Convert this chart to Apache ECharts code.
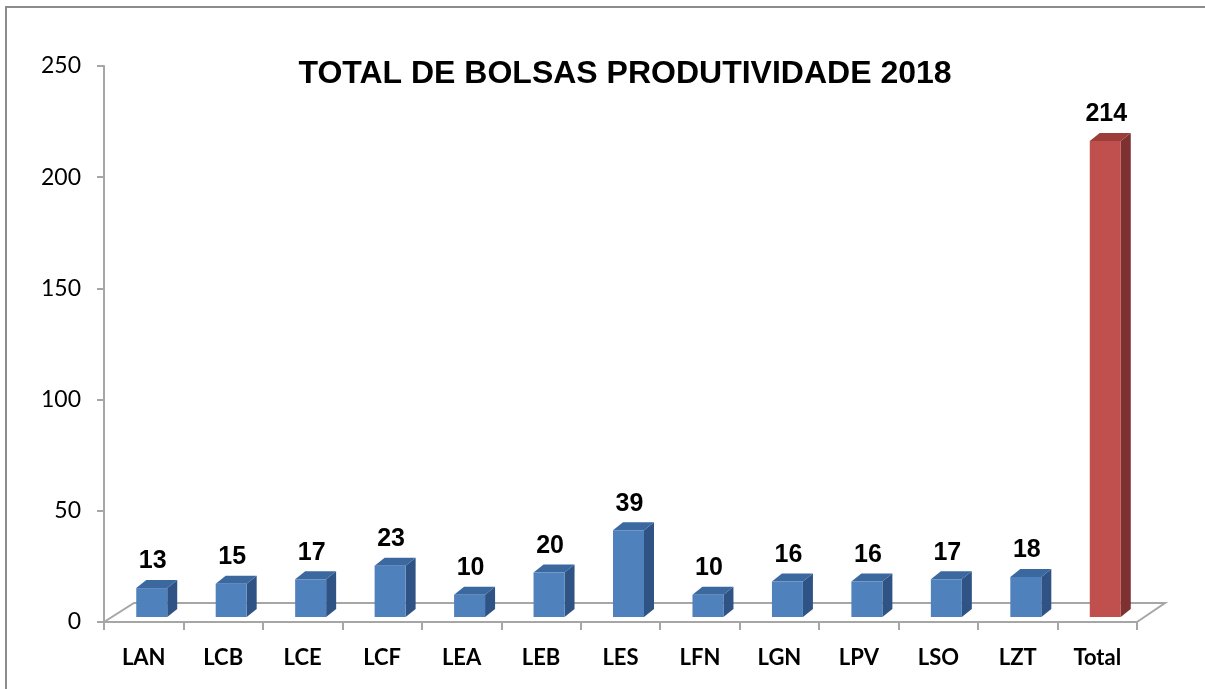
<!DOCTYPE html>
<html>
<head>
<meta charset="utf-8">
<script src="https://cdn.jsdelivr.net/npm/echarts@6/dist/echarts.min.js"></script>
<style>
  html, body { margin: 0; padding: 0; background: #fff; }
  #chart { width: 1205px; height: 689px; }
</style>
</head>
<body>
<div id="chart"></div>
<script>
const categories = ['LAN', 'LCB', 'LCE', 'LCF', 'LEA', 'LEB', 'LES', 'LFN', 'LGN', 'LPV', 'LSO', 'LZT', 'Total']
const values = [13, 15, 17, 23, 10, 20, 39, 10, 16, 16, 17, 18, 214]
const yTicks = [0, 50, 100, 150, 200, 250]

const blue = { front: '#4F81BD', top: '#3C68A0', side: '#2F5384' }
const red = { front: '#C0504D', top: '#9C3D3A', side: '#7D3130' }
const gridColor = '#A6A6A6'

let myChart = echarts.init(document.getElementById('chart'))

function renderBar (params, api) {
  let idx = api.value(0)
  let val = api.value(1)
  let top = api.coord([idx, val])
  let base = api.coord([idx, 0])
  let band = api.size([1, 0])[0]
  let w = band * 0.39
  // bar sits a bit inside the floor depth
  let sx = 8
  let sy = -5
  let dx = 10
  let dy = -8
  let x0 = top[0] - w / 2 + sx
  let x1 = x0 + w
  let yT = top[1] + sy
  let yB = base[1] + sy
  let c = idx === categories.length - 1 ? red : blue
  return {
    type: 'group',
    children: [
      {
        type: 'polygon',
        shape: { points: [[x1, yT], [x1 + dx, yT + dy], [x1 + dx, yB + dy], [x1, yB]] },
        style: { fill: c.side }
      },
      {
        type: 'polygon',
        shape: { points: [[x0, yT], [x0 + dx, yT + dy], [x1 + dx, yT + dy], [x1, yT]] },
        style: { fill: c.top }
      },
      {
        type: 'rect',
        shape: { x: x0, y: yT, width: w, height: yB - yT },
        style: { fill: c.front }
      },
      {
        type: 'text',
        x: (x0 + x1) / 2 + 1,
        y: yT + dy - 6,
        style: {
          text: String(val),
          fill: '#000',
          font: 'bold 25px "Liberation Sans", Arial, sans-serif',
          align: 'center',
          verticalAlign: 'bottom'
        }
      }
    ]
  }
}

function renderFloor (params, api) {
  let cs = params.coordSys
  let yF = cs.y + cs.height
  let xL = cs.x
  let xR = cs.x + cs.width
  return {
    type: 'polyline',
    silent: true,
    shape: { points: [[xL, yF], [xL + 30, yF - 19], [xR + 28, yF - 19], [xR, yF]] },
    style: { stroke: gridColor, lineWidth: 2, fill: null }
  }
}

myChart.setOption({
  backgroundColor: '#fff',
  animation: false,
  title: {
    text: 'TOTAL DE BOLSAS PRODUTIVIDADE 2018',
    left: 620,
    top: 53,
    textAlign: 'center',
    textStyle: {
      fontFamily: '"Liberation Sans", Arial, sans-serif',
      fontWeight: 'bold',
      fontSize: 32,
      color: '#000'
    }
  },
  graphic: [
    {
      type: 'rect',
      silent: true,
      shape: { x: 6, y: 7, width: 1300, height: 800 },
      style: { fill: null, stroke: '#8C8C8C', lineWidth: 2 }
    }
  ],
  grid: {
    left: 104,
    right: 68,
    top: 66,
    bottom: 67,
    containLabel: false
  },
  xAxis: {
    type: 'category',
    data: categories,
    boundaryGap: true,
    axisLine: { lineStyle: { color: gridColor, width: 2 } },
    axisTick: { show: true, alignWithLabel: false, length: 8, lineStyle: { color: gridColor, width: 2 } },
    axisLabel: {
      interval: 0,
      margin: 25,
      color: '#000',
      fontFamily: 'Lato, "Open Sans", sans-serif',
      fontWeight: 'bold',
      fontSize: 22
    },
    splitLine: { show: false }
  },
  yAxis: {
    type: 'value',
    min: yTicks[0],
    max: yTicks[yTicks.length - 1],
    interval: 50,
    axisLine: { show: true, lineStyle: { color: gridColor, width: 2 } },
    axisTick: { show: true, length: 7, lineStyle: { color: gridColor, width: 2 } },
    axisLabel: {
      margin: 23,
      color: '#000',
      fontFamily: 'Lato, "Open Sans", sans-serif',
      fontSize: 23
    },
    splitLine: { show: false }
  },
  series: [
    {
      type: 'custom',
      name: 'floor',
      silent: true,
      z: 1,
      renderItem: renderFloor,
      data: [[0, 0]]
    },
    {
      type: 'custom',
      name: 'bolsas',
      z: 3,
      renderItem: renderBar,
      encode: { x: 0, y: 1 },
      data: categories.map((c, i) => [i, values[i]])
    }
  ]
})
</script>
</body>
</html>
